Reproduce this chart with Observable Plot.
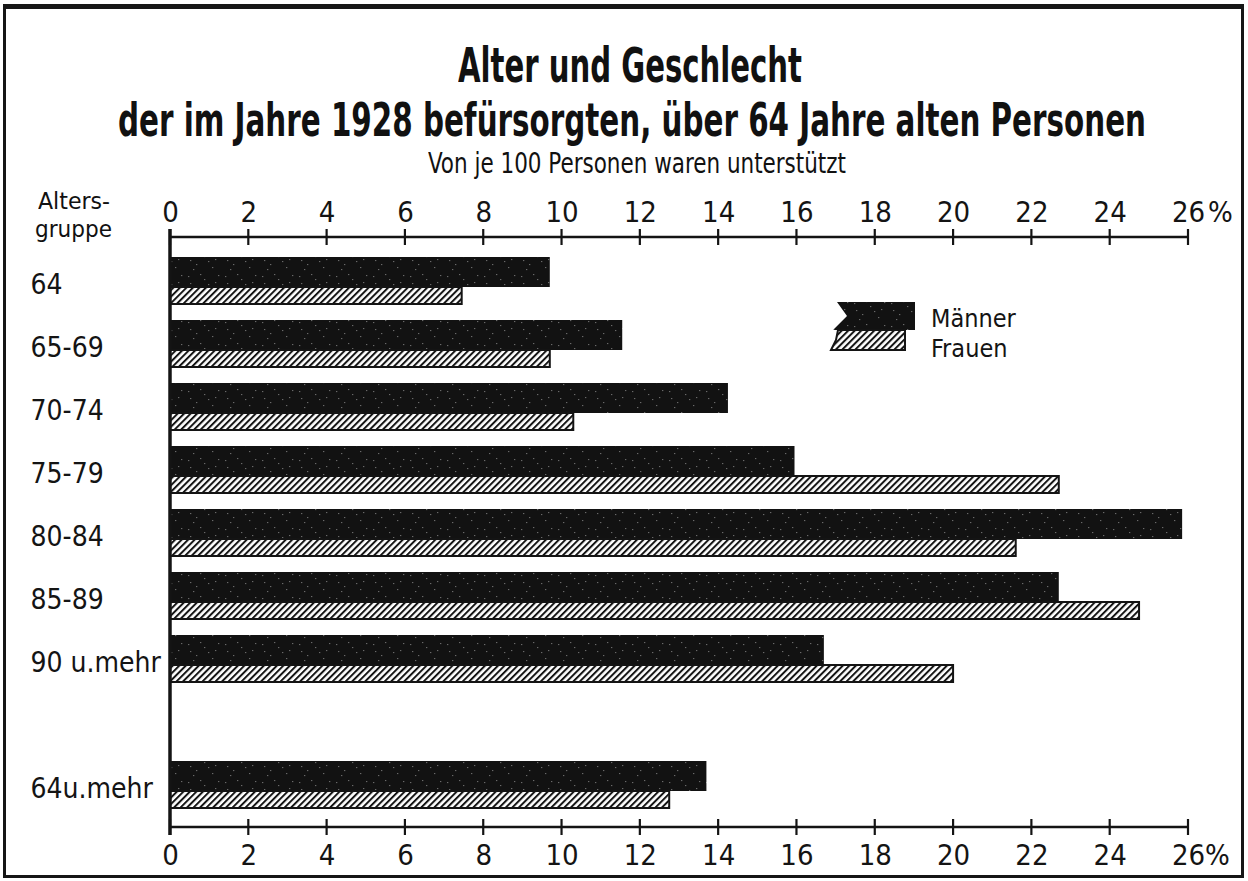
<!DOCTYPE html>
<html><head><meta charset="utf-8">
<script src="https://cdn.jsdelivr.net/npm/d3@7"></script>
<script src="https://cdn.jsdelivr.net/npm/@observablehq/plot@0.6"></script>
<style>
html,body{margin:0;padding:0;background:#fff}
body{width:1248px;height:881px;overflow:hidden;position:relative;font-family:"DejaVu Sans Condensed","Liberation Sans Narrow","DejaVu Sans",sans-serif;color:#111}
#frame{position:absolute;left:3px;top:4px;width:1241px;height:874px;border:3px solid #161616;border-top-width:5px;box-sizing:border-box}
.t{position:absolute;white-space:nowrap;transform-origin:left top;line-height:1}
#chart{position:absolute;left:0;top:180px}
#legend{position:absolute;left:0;top:0}
</style></head><body>
<div id="frame"></div>
<div id="t1" class="t" style="font-weight:bold">Alter und Geschlecht</div>
<div id="t2" class="t" style="font-weight:bold">der im Jahre 1928 befürsorgten, über 64 Jahre alten Personen</div>
<div id="t3" class="t">Von je 100 Personen waren unterstützt</div>
<div id="a1" class="t">Alters-</div>
<div id="a2" class="t">gruppe</div>
<div id="chart"></div>
<script>
// ---- data ----
const groups = ["64", "65-69", "70-74", "75-79", "80-84", "85-89", "90 u.mehr", "64u.mehr"];
const maenner = [9.7, 11.55, 14.25, 15.95, 25.85, 22.7, 16.7, 13.7];
const frauen  = [7.45, 9.7, 10.3, 22.7, 21.6, 24.75, 20.0, 12.75];
const xTicks = [0, 2, 4, 6, 8, 10, 12, 14, 16, 18, 20, 22, 24, 26];
const seriesNames = ["Männer", "Frauen"];

const rows = groups.map((g, i) => ({group: g, m: maenner[i], f: frauen[i]}));
const yDomain = [...groups.slice(0, 7), " ", groups[7]];
const ink = "#141414";
const font = '"DejaVu Sans Condensed","Liberation Sans Narrow","DejaVu Sans",sans-serif';

function defs() {
  const g = d3.create("svg:defs");
  const h = g.append("pattern").attr("id", "hatch").attr("patternUnits", "userSpaceOnUse")
    .attr("width", 4.6).attr("height", 4.6).attr("patternTransform", "rotate(45)");
  h.append("rect").attr("width", 4.6).attr("height", 4.6).attr("fill", "#fff");
  h.append("line").attr("x1", 1).attr("x2", 1).attr("y1", 0).attr("y2", 4.6)
    .attr("stroke", ink).attr("stroke-width", 2);
  const s = g.append("pattern").attr("id", "speckle").attr("patternUnits", "userSpaceOnUse")
    .attr("width", 37).attr("height", 23);
  s.append("rect").attr("width", 37).attr("height", 23).attr("fill", "#121212");
  [[3,4],[11,15],[19,7],[27,18],[33,3],[8,20],[23,12],[30,10],[15,2],[5,11]].forEach(([x, y]) =>
    s.append("rect").attr("x", x).attr("y", y).attr("width", 1.3).attr("height", 1.1).attr("fill", "#6a6a6a"));
  return g.node();
}

function axesLines(index, scales, values, dim) {
  const g = d3.create("svg:g").attr("stroke", ink).attr("fill", "none");
  const top = dim.marginTop, bottom = dim.height - dim.marginBottom;
  const x0 = scales.x(0), x1 = scales.x(26);
  g.append("line").attr("x1", x0).attr("x2", x1).attr("y1", top).attr("y2", top).attr("stroke-width", 2.5);
  g.append("line").attr("x1", x0).attr("x2", x1).attr("y1", bottom).attr("y2", bottom).attr("stroke-width", 2.5);
  g.append("line").attr("x1", x0).attr("x2", x0).attr("y1", top - 8).attr("y2", bottom + 8).attr("stroke-width", 3.5);
  for (const t of xTicks) {
    const x = scales.x(t);
    g.append("line").attr("x1", x).attr("x2", x).attr("y1", top - 8).attr("y2", top + 8).attr("stroke-width", 2.2);
    g.append("line").attr("x1", x).attr("x2", x).attr("y1", bottom - 8).attr("y2", bottom + 8).attr("stroke-width", 2.2);
  }
  return g.node();
}

const plot = Plot.plot({
  width: 1248,
  height: 690,
  marginLeft: 170,
  marginRight: 60,
  marginTop: 57,
  marginBottom: 43,
  style: {fontFamily: font, fontSize: "29px", color: ink, background: "transparent", overflow: "visible"},
  x: {domain: [0, 26], axis: null},
  y: {domain: yDomain, axis: null, paddingInner: 0, paddingOuter: 0.18},
  marks: [
    defs,
    Plot.barX(rows, {x: "m", y: "group", fill: "url(#speckle)", insetTop: 8, insetBottom: 25}),
    Plot.barX(rows, {x: "f", y: "group", fill: "url(#hatch)", stroke: ink, strokeWidth: 2, insetTop: 38, insetBottom: 8}),
    axesLines,
    Plot.text(xTicks, {x: d => d, frameAnchor: "top", lineAnchor: "middle", dy: -25, text: d => String(d), fontSize: 29, fill: ink}),
    Plot.text([26], {x: d => d, frameAnchor: "top", lineAnchor: "middle", dy: -25, dx: 32, text: () => "%", fontSize: 29, fill: ink}),
    Plot.text(xTicks, {x: d => d, frameAnchor: "bottom", lineAnchor: "middle", dy: 28, text: d => String(d), fontSize: 29, fill: ink}),
    Plot.text([26], {x: d => d, frameAnchor: "bottom", lineAnchor: "middle", dy: 28, dx: 29, text: () => "%", fontSize: 29, fill: ink}),
    Plot.text(groups, {y: d => d, frameAnchor: "left", dx: -140, dy: 4, textAnchor: "start", text: d => d, fontSize: 28, fill: ink})
  ]
});
document.getElementById("chart").appendChild(plot);

// legend
const lg = d3.select("body").append("svg").attr("id", "legend").attr("width", 1248).attr("height", 881);
lg.append("polygon").attr("points", "837,302 915,302 915,330 833,330 847,316").attr("fill", "url(#speckle)");
lg.append("polygon").attr("points", "838,330 905,330 905,350 831,350 836,340").attr("fill", "url(#hatch)").attr("stroke", ink).attr("stroke-width", 2);
lg.selectAll("text").data(seriesNames).join("text")
  .attr("x", 931).attr("y", (d, i) => 327 + i * 30)
  .attr("font-family", font).attr("font-size", 25).attr("fill", ink).text(d => d);

function place(id, left, capTop, width, fs) {
  const el = document.getElementById(id);
  el.style.fontSize = fs + "px";
  el.style.left = left + "px";
  el.style.top = (capTop - 0.117 * fs) + "px";
  const w = el.getBoundingClientRect().width;
  el.style.transform = `scaleX(${width / w})`;
}
place("t1", 458, 47, 344, 48);
place("t2", 118, 102, 1028, 46);
place("t3", 428, 152, 418, 29);
place("a1", 38, 193, 72, 23);
place("a2", 35, 221, 77, 23);
</script>
</body></html>
